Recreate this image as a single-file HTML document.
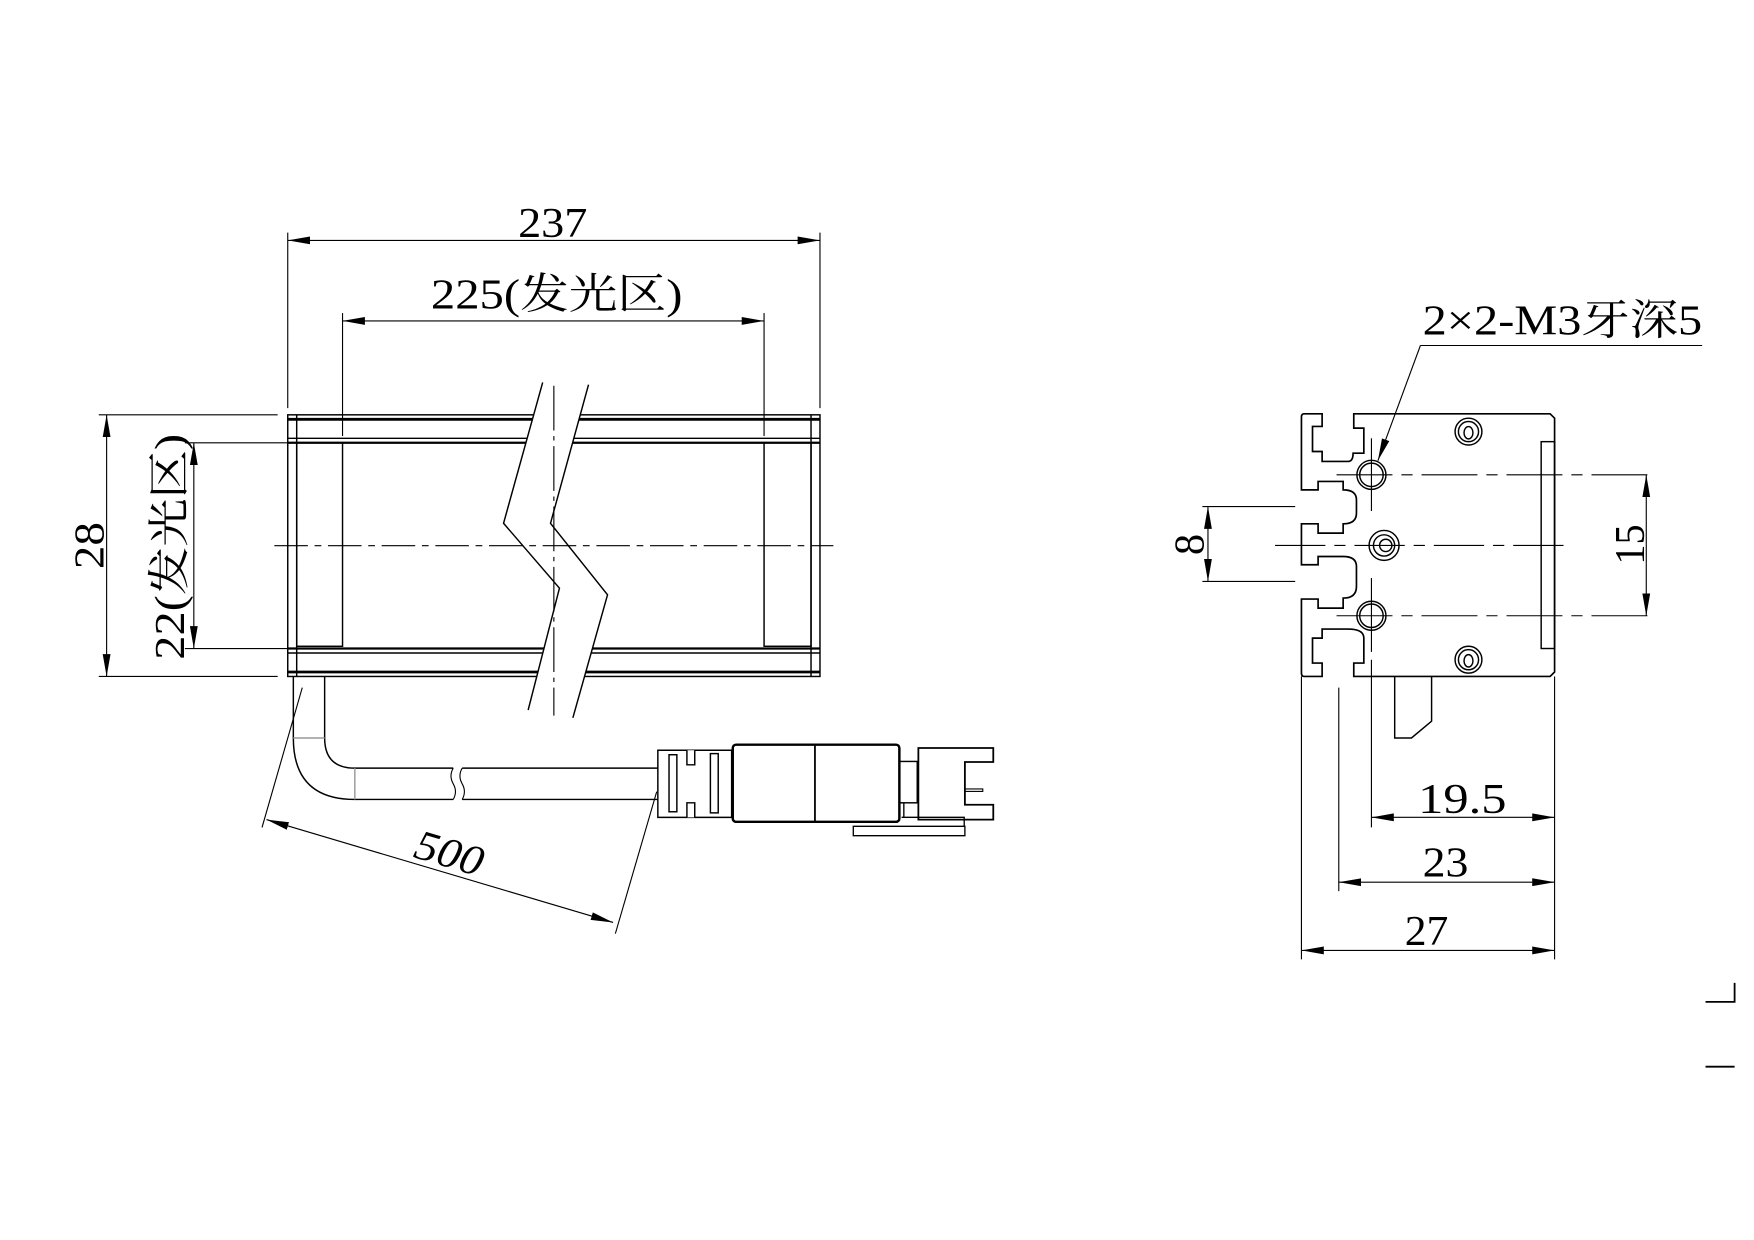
<!DOCTYPE html>
<html><head><meta charset="utf-8"><style>
html,body{margin:0;padding:0;background:#fff}
svg{display:block}
text{font-family:"Liberation Serif","Noto Serif CJK SC",serif;fill:#000}
</style></head><body>
<svg width="1754" height="1240" viewBox="0 0 1568 1109" xmlns="http://www.w3.org/2000/svg">
<defs>
<marker id="a" viewBox="0 0 20 8" refX="20" refY="4" markerWidth="20" markerHeight="8" markerUnits="userSpaceOnUse" orient="auto-start-reverse"><path d="M0 0.5 L20 4 L0 7.5Z" fill="#000"/></marker>
</defs>
<g fill="none" stroke="#000" stroke-width="1.3">
<!-- LEFT VIEW body -->
<rect x="257" y="371" width="476" height="234"/>
<line x1="265" y1="371" x2="265" y2="605"/><line x1="725" y1="371" x2="725" y2="605"/>
<line x1="257" y1="375" x2="733" y2="375" stroke-width="2.5"/>
<line x1="257" y1="392" x2="733" y2="392"/><line x1="257" y1="396" x2="733" y2="396" stroke-width="2"/>
<line x1="257" y1="580" x2="733" y2="580" stroke-width="2"/><line x1="257" y1="584" x2="733" y2="584"/>
<line x1="257" y1="601" x2="733" y2="601" stroke-width="2.5"/>
<rect x="265" y="396" width="41" height="182"/><rect x="683" y="396" width="42" height="182"/>
<!-- break -->
<polygon points="485,342 450,468 500,526 472,635 512,642 543,532 492,468 526,344" fill="#fff" stroke="none"/>
<polyline points="485,342 450,468 500,526 472,635"/>
<polyline points="526,344 492,468 543,532 512,642"/>
<line x1="495" y1="345" x2="495" y2="640" stroke-width="1" stroke-dasharray="40,5,4,5"/>
<line x1="245" y1="488" x2="745" y2="488" stroke-width="1" stroke-dasharray="30,6,6,6"/>
<!-- 237 -->
<line x1="257" y1="208" x2="257" y2="365" stroke-width="1"/><line x1="733" y1="208" x2="733" y2="365" stroke-width="1"/>
<line x1="257" y1="215" x2="733" y2="215" stroke-width="1" marker-start="url(#a)" marker-end="url(#a)"/>
<!-- 225 -->
<line x1="306" y1="280" x2="306" y2="390" stroke-width="1"/><line x1="683" y1="280" x2="683" y2="390" stroke-width="1"/>
<line x1="306" y1="287" x2="683" y2="287" stroke-width="1" marker-start="url(#a)" marker-end="url(#a)"/>
<!-- 28 -->
<line x1="88" y1="371" x2="248" y2="371" stroke-width="1"/><line x1="88" y1="605" x2="248" y2="605" stroke-width="1"/>
<line x1="95" y1="371" x2="95" y2="605" stroke-width="1" marker-start="url(#a)" marker-end="url(#a)"/>
<!-- 22 -->
<line x1="165" y1="396" x2="257" y2="396" stroke-width="1"/><line x1="165" y1="580" x2="257" y2="580" stroke-width="1"/>
<line x1="173" y1="396" x2="173" y2="580" stroke-width="1" marker-start="url(#a)" marker-end="url(#a)"/>
<!-- cable -->
<path d="M262 605 V660 Q262 715 317 715 H405 M413 715 H588 M290 605 V660 Q290 687 317 687 H405 M413 687 H588"/>
<path d="M405 687 q-4 7 0 14 q4 7 0 14 M413 687 q-4 7 0 14 q4 7 0 14" stroke-width="1"/>
<line x1="262" y1="660" x2="290" y2="660" stroke="#999"/><line x1="317" y1="687" x2="317" y2="715" stroke="#999"/>
<!-- 500 -->
<line x1="270" y1="615" x2="234" y2="740" stroke-width="1"/><line x1="587" y1="708" x2="550" y2="835" stroke-width="1"/>
<line x1="238" y1="733" x2="548" y2="825" stroke-width="1" marker-start="url(#a)" marker-end="url(#a)"/>
<!-- connector -->
<path d="M588 671 H654 V731 H588 Z"/>
<path d="M614 671 V684 H621 V671 M614 731 V718 H621 V731" fill="#fff"/>
<rect x="598" y="675" width="7" height="51"/><rect x="635" y="674" width="7" height="53"/>
<rect x="655" y="666" width="149" height="69" rx="3" stroke-width="2.2"/>
<line x1="728.5" y1="666" x2="728.5" y2="735" stroke-width="1.6"/>
<rect x="804" y="681" width="16" height="37"/>
<path d="M821 669 H888 V681.5 H862.6 V719.7 H888 V733 H821 Z" stroke-width="1.6"/>
<rect x="862.6" y="705.6" width="16" height="2.2" stroke-width="1"/>
<path d="M808 718 V731 H821 M806 731 H862 V739 M762.8 739 H862.6 V747.4 H762.8 Z" stroke-width="1.2"/>
<!-- RIGHT VIEW -->
<path d="M1182.1 370.1 V381.4 H1173.5 V403.8 H1182.1 V412.7 H1205.4 Q1209.8 412.7 1209.8 405.3 H1219.4 V382.9 H1210.4 V370.1 H1386 L1390 374 V601 L1386 605 H1210.4 V593 H1219.4 V570.7 Q1219.4 562.6 1205.4 562.6 H1182.1 V570.7 H1173.5 V593 H1182.1 V605 H1166 Q1163.6 605 1163.6 602 V535.8 H1178.5 V543.9 H1200.9 V534.9 Q1212.8 534.9 1212.8 524.5 V506.6 Q1212.8 497.7 1200.9 497.7 H1178.5 V505.1 H1163.6 V468.5 H1178.5 V476.8 H1200.9 V468.5 Q1212.8 468.5 1212.8 458.9 V447 Q1212.8 438.1 1200.9 438.1 V430.6 H1178.5 V438.1 H1163.6 V373 Q1163.6 370.1 1166 370.1 Z" stroke-width="1.5"/>
<rect x="1378" y="395" width="12" height="185"/>
<circle cx="1226.2" cy="424.7" r="13"/><circle cx="1226.2" cy="424.7" r="10.5"/>
<circle cx="1226.2" cy="550.7" r="13"/><circle cx="1226.2" cy="550.7" r="10.5"/>
<circle cx="1237.5" cy="487.8" r="13.4"/><circle cx="1237.5" cy="487.8" r="9.5"/><circle cx="1239" cy="487.8" r="5.5"/>
<circle cx="1313" cy="386" r="12"/><circle cx="1313" cy="386" r="9"/><ellipse cx="1313" cy="387" rx="4" ry="5.5"/>
<circle cx="1313" cy="590" r="12"/><circle cx="1313" cy="590" r="9"/><ellipse cx="1313" cy="591" rx="4" ry="5.5"/>
<g stroke-width="1">
<line x1="1195" y1="424.7" x2="1480" y2="424.7" stroke-dasharray="50,8,10,8"/>
<line x1="1195" y1="550.7" x2="1480" y2="550.7" stroke-dasharray="50,8,10,8"/>
<line x1="1140" y1="487.8" x2="1400" y2="487.8" stroke-dasharray="45,8,10,8"/>
<line x1="1226.2" y1="392" x2="1226.2" y2="457"/><line x1="1226.2" y1="517" x2="1226.2" y2="583"/>
<line x1="1472" y1="424.7" x2="1472" y2="550.7" marker-start="url(#a)" marker-end="url(#a)"/>
<line x1="1075" y1="453" x2="1158" y2="453"/><line x1="1075" y1="520" x2="1158" y2="520"/>
<line x1="1080" y1="453" x2="1080" y2="520" marker-start="url(#a)" marker-end="url(#a)"/>
<line x1="1270" y1="309" x2="1522" y2="309"/>
<line x1="1270" y1="309" x2="1232" y2="412" marker-end="url(#a)"/>
<line x1="1163.6" y1="605" x2="1163.6" y2="858"/><line x1="1197" y1="615" x2="1197" y2="797"/>
<line x1="1226.2" y1="590" x2="1226.2" y2="740"/><line x1="1390" y1="605" x2="1390" y2="858"/>
<line x1="1226.2" y1="731" x2="1390" y2="731" marker-start="url(#a)" marker-end="url(#a)"/>
<line x1="1197" y1="789" x2="1390" y2="789" marker-start="url(#a)" marker-end="url(#a)"/>
<line x1="1163.6" y1="850" x2="1390" y2="850" marker-start="url(#a)" marker-end="url(#a)"/>
</g>
<path d="M1247 605 V660 H1262 L1280 645 V605" stroke-width="1.3"/>
<path d="M1525 896 H1551 V879 M1525 954 H1551" stroke-width="1.6"/>
</g>
<!-- texts -->
<g font-size="38">
<text x="494" y="212" text-anchor="middle" textLength="62" lengthAdjust="spacingAndGlyphs">237</text>
<text x="385" y="276" textLength="225" lengthAdjust="spacingAndGlyphs">225(发光区)</text>
<text transform="translate(92,488) rotate(-90)" text-anchor="middle" textLength="42" lengthAdjust="spacingAndGlyphs">28</text>
<text transform="translate(164,590) rotate(-90)" textLength="202" lengthAdjust="spacingAndGlyphs">22(发光区)</text>
<text transform="translate(398,775) rotate(16.5)" text-anchor="middle" font-style="italic" textLength="62" lengthAdjust="spacingAndGlyphs">500</text>
<text x="1272" y="299" textLength="250" lengthAdjust="spacingAndGlyphs">2×2-M3牙深5</text>
<text transform="translate(1076,487) rotate(-90)" text-anchor="middle">8</text>
<text transform="translate(1470,487) rotate(-90)" text-anchor="middle" textLength="36" lengthAdjust="spacingAndGlyphs">15</text>
<text x="1268" y="727" textLength="79" lengthAdjust="spacingAndGlyphs">19.5</text>
<text x="1272" y="784" textLength="41" lengthAdjust="spacingAndGlyphs">23</text>
<text x="1256" y="845" textLength="39" lengthAdjust="spacingAndGlyphs">27</text>
</g>
</svg>
</body></html>
